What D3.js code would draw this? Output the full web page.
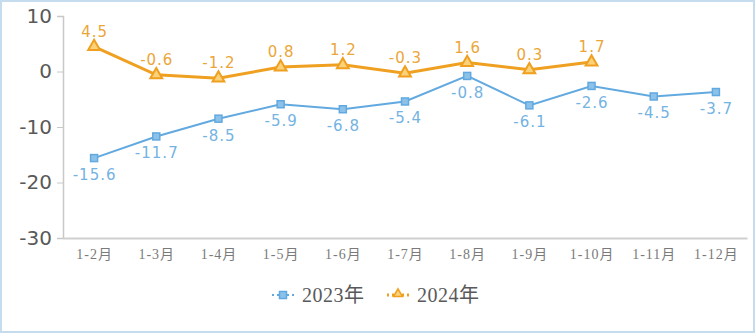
<!DOCTYPE html>
<html><head><meta charset="utf-8">
<script src="https://cdn.jsdelivr.net/npm/d3@7"></script>
<style>body{margin:0;background:#fff}svg{display:block}</style>
</head><body>
<script>
const categories = ["1-2月","1-3月","1-4月","1-5月","1-6月","1-7月","1-8月","1-9月","1-10月","1-11月","1-12月"];
const values2023 = [-15.6,-11.7,-8.5,-5.9,-6.8,-5.4,-0.8,-6.1,-2.6,-4.5,-3.7];
const values2024 = [4.5,-0.6,-1.2,0.8,1.2,-0.3,1.6,0.3,1.7];
const yTicks = [10,0,-10,-20,-30];
const seriesNames = ["2023年","2024年"];

const W=756,H=334;
const svg=d3.select("body").append("svg").attr("width",W).attr("height",H);
svg.append("rect").attr("x",1).attr("y",1).attr("width",W-3).attr("height",H-3)
  .attr("fill","#fff").attr("stroke","#c5dcef").attr("stroke-width",2);

const x=d3.scaleBand().domain(categories).range([63,747]);
const y=d3.scaleLinear().domain([-30,10]).range([238,16]);
const blue="#62a9e0", orange="#f0a020";

// y axis
const ya=svg.append("g").attr("transform","translate(63,0)")
  .call(d3.axisLeft(y).tickValues(yTicks).tickSize(6).tickFormat(d=>String(d)));
ya.select(".domain").attr("stroke","#c8c8c8").attr("stroke-width",1.5);
ya.selectAll(".tick line").attr("stroke","#c8c8c8");
ya.selectAll("text").attr("font-family","Verdana, 'DejaVu Sans', sans-serif").attr("font-size",20)
  .attr("fill","#595959").attr("x",-11);

// x axis
const xa=svg.append("g").attr("transform","translate(0,238)")
  .call(d3.axisBottom(x).tickSize(0).tickPadding(11));
xa.select(".domain").attr("stroke","#d0d0d0").attr("stroke-width",2);
xa.selectAll("text").attr("font-family","'Liberation Serif', 'Noto Sans CJK SC', serif").attr("font-size",14)
  .attr("letter-spacing",1).attr("dx",0.5).attr("fill","#7a7a7a");

const line=d3.line().x((d,i)=>x(categories[i])+x.bandwidth()/2).y(d=>y(d));

// 2023
svg.append("path").datum(values2023).attr("d",line).attr("fill","none").attr("stroke",blue).attr("stroke-width",2);
svg.selectAll(".m23").data(values2023).enter().append("rect")
  .attr("x",(d,i)=>x(categories[i])+x.bandwidth()/2-3.5).attr("y",d=>y(d)-3.5)
  .attr("width",7).attr("height",7).attr("fill","#8cc2ea").attr("stroke",blue).attr("stroke-width",1.5);
svg.selectAll(".l23").data(values2023).enter().append("text")
  .attr("x",(d,i)=>x(categories[i])+x.bandwidth()/2+0.5).attr("y",d=>y(d)+22)
  .attr("text-anchor","middle").attr("font-family","Verdana, 'DejaVu Sans', sans-serif").attr("font-size",15)
  .attr("letter-spacing",1).attr("fill","#74b3e2").text(d=>d.toFixed(1));

// 2024
svg.append("path").datum(values2024).attr("d",line).attr("fill","none").attr("stroke",orange).attr("stroke-width",3);
const tri=d3.symbol().type(d3.symbolTriangle).size(60);
svg.selectAll(".m24").data(values2024).enter().append("path")
  .attr("d",tri).attr("transform",(d,i)=>`translate(${x(categories[i])+x.bandwidth()/2},${y(d)})`)
  .attr("fill","#fbd27a").attr("stroke",orange).attr("stroke-width",2);
svg.selectAll(".l24").data(values2024).enter().append("text")
  .attr("x",(d,i)=>x(categories[i])+x.bandwidth()/2+0.5).attr("y",d=>y(d)-10)
  .attr("text-anchor","middle").attr("font-family","Verdana, 'DejaVu Sans', sans-serif").attr("font-size",15)
  .attr("letter-spacing",1).attr("fill","#eba63a").text(d=>d.toFixed(1));

// legend
const lg=svg.append("g");
const lx=[272,387];
const triS=d3.symbol().type(d3.symbolTriangle).size(35);
[0,1].forEach(k=>{
  const c=k===0?blue:orange;
  lg.append("line").attr("x1",lx[k]).attr("x2",lx[k]+22).attr("y1",295).attr("y2",295)
    .attr("stroke",c).attr("stroke-width",k===0?2:3).attr("stroke-dasharray","2,3");
  if(k===0) lg.append("rect").attr("x",lx[k]+7.5).attr("y",291.5).attr("width",7).attr("height",7)
    .attr("fill","#8cc2ea").attr("stroke",blue).attr("stroke-width",1.5);
  else lg.append("path").attr("d",triS).attr("transform",`translate(${lx[k]+11},294)`)
    .attr("fill","#fbd27a").attr("stroke",orange).attr("stroke-width",1.5);
  lg.append("text").attr("x",lx[k]+30).attr("y",302).attr("font-family","'Liberation Serif', 'Noto Sans CJK SC', serif")
    .attr("font-size",20).attr("letter-spacing",0.5).attr("fill","#595959").text(seriesNames[k]);
});
</script>
</body></html>
